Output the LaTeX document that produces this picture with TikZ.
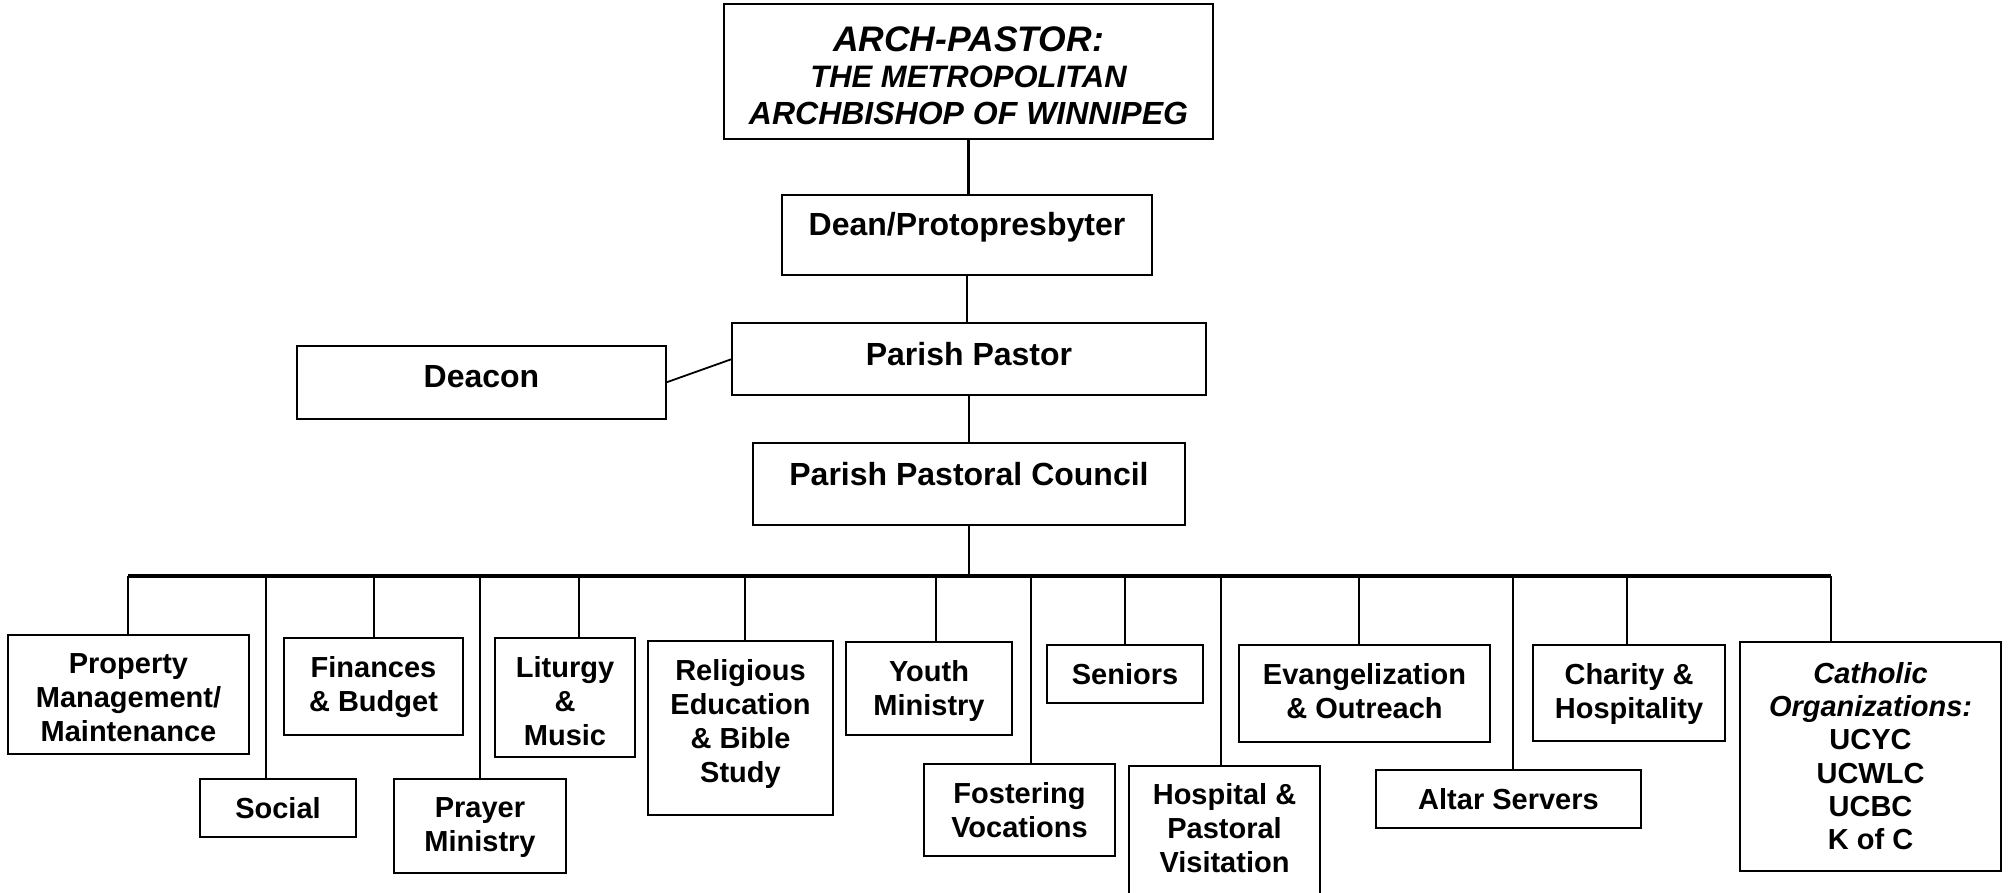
\documentclass[tikz,border=0pt]{standalone}
\usepackage{fontspec}
\setmainfont{Liberation Sans}
\usetikzlibrary{positioning}
\tikzstyle{box} = [draw, rectangle, line width=2pt, inner sep=0pt, outer sep=0pt]
\tikzstyle{lbl} = [align=center, inner sep=0pt, font=\bfseries\fontsize{29}{34}\selectfont]
\tikzstyle{big lbl} = [lbl, font=\bfseries\fontsize{32}{34}\selectfont]
\tikzstyle{link} = [draw, line width=1.8pt]
\tikzstyle{spine} = [draw, line width=2.5pt]
\tikzstyle{bus} = [draw, line width=4pt]

\begin{document}
\begin{tikzpicture}[x=1pt,y=-1pt]
    \useasboundingbox[fill=white] (0,0) rectangle (2009,892);
    % boxes: name/centre x/centre y/width/height
    \foreach \n/\x/\y/\w/\h in {arch/968.5/71.5/489/135, dean/967/235/370/80,
        pastor/969/359/474/72, deacon/481.5/382.5/369/73, council/969/484/432/82,
        prop/128.5/694.5/241/119, social/278/808/156/58, fin/373.5/686.5/179/97,
        prayer/480/826/172/94, lit/565/697.5/140/119, rel/740.5/728/185/174,
        youth/929/688.5/166/93, fost/1019.5/810/191/92, sen/1125/674/156/58,
        hosp/1224.5/833/191/134, evan/1364.5/693.5/251/97, altar/1508.5/799/265/58,
        char/1629/693/192/96, cath/1870.5/756.5/261/229}
        \node[box, minimum width=\w pt, minimum height=\h pt] (\n) at (\x,\y) {};

    % texts
    \node[lbl, font=\bfseries\itshape\fontsize{31}{36.5}\selectfont, below=22.5pt of arch.north] (archlbl)
        {{\fontsize{35.5}{36.5}\selectfont ARCH-PASTOR:}\\THE METROPOLITAN\\{\fontsize{32}{36.5}\selectfont ARCHBISHOP OF WINNIPEG}};
    \node[big lbl, below=17pt of dean.north] (deanlbl) {Dean/Protopresbyter};
    \node[big lbl, below=19pt of pastor.north] (pastorlbl) {Parish Pastor};
    \node[big lbl, below=19pt of deacon.north] (deaconlbl) {Deacon};
    \node[big lbl, below=19pt of council.north] (councillbl) {Parish Pastoral Council};
    \node[lbl, below=18pt of prop.north] (proplbl) {Property\\Management/\\Maintenance};
    \node[lbl, below=18pt of social.north] (sociallbl) {Social};
    \node[lbl, below=18pt of fin.north] (finlbl) {Finances\\\& Budget};
    \node[lbl, below=18pt of prayer.north] (prayerlbl) {Prayer\\Ministry};
    \node[lbl, below=18pt of lit.north] (litlbl) {Liturgy\\\&\\Music};
    \node[lbl, below=18pt of rel.north] (rellbl) {Religious\\Education\\\& Bible\\Study};
    \node[lbl, below=18pt of youth.north] (youthlbl) {Youth\\Ministry};
    \node[lbl, below=18pt of fost.north] (fostlbl) {Fostering\\Vocations};
    \node[lbl, below=18pt of sen.north] (senlbl) {Seniors};
    \node[lbl, below=17pt of hosp.north] (hosplbl) {Hospital \&\\Pastoral\\Visitation};
    \node[lbl, below=18pt of evan.north] (evanlbl) {Evangelization\\\& Outreach};
    \node[lbl, below=18pt of altar.north] (altarlbl) {Altar Servers};
    \node[lbl, below=18pt of char.north] (charlbl) {Charity \&\\Hospitality};
    \node[lbl, font=\bfseries\fontsize{29}{33.3}\selectfont, below=20pt of cath.north] (cathlbl)
        {\itshape Catholic\\\itshape Organizations:\\UCYC\\UCWLC\\UCBC\\K of C};

    % upper chain
    \draw[spine] (arch.south) -- (arch.south |- dean.north);
    \draw[spine] (dean.south) -- (dean.south |- pastor.north);
    \draw[spine] (pastor.south) -- (pastor.south |- council.north);
    \draw[link] (deacon.east) -- (pastor.west);

    % drops from the bus
    \foreach \n/\bx in {prop/128, social/266, fin/374, prayer/480, lit/579, rel/745,
        youth/936, fost/1031, sen/1125, hosp/1221, evan/1359, altar/1513, char/1627, cath/1831}
    {
        \coordinate (bus\n) at (\bx,576);
        \draw[link] (bus\n) -- (bus\n |- \n.north);
    }
    \draw[bus] (busprop) -- (buscath);
    \draw[spine] (council.south) -- (council.south |- busprop);
\end{tikzpicture}
\end{document}
